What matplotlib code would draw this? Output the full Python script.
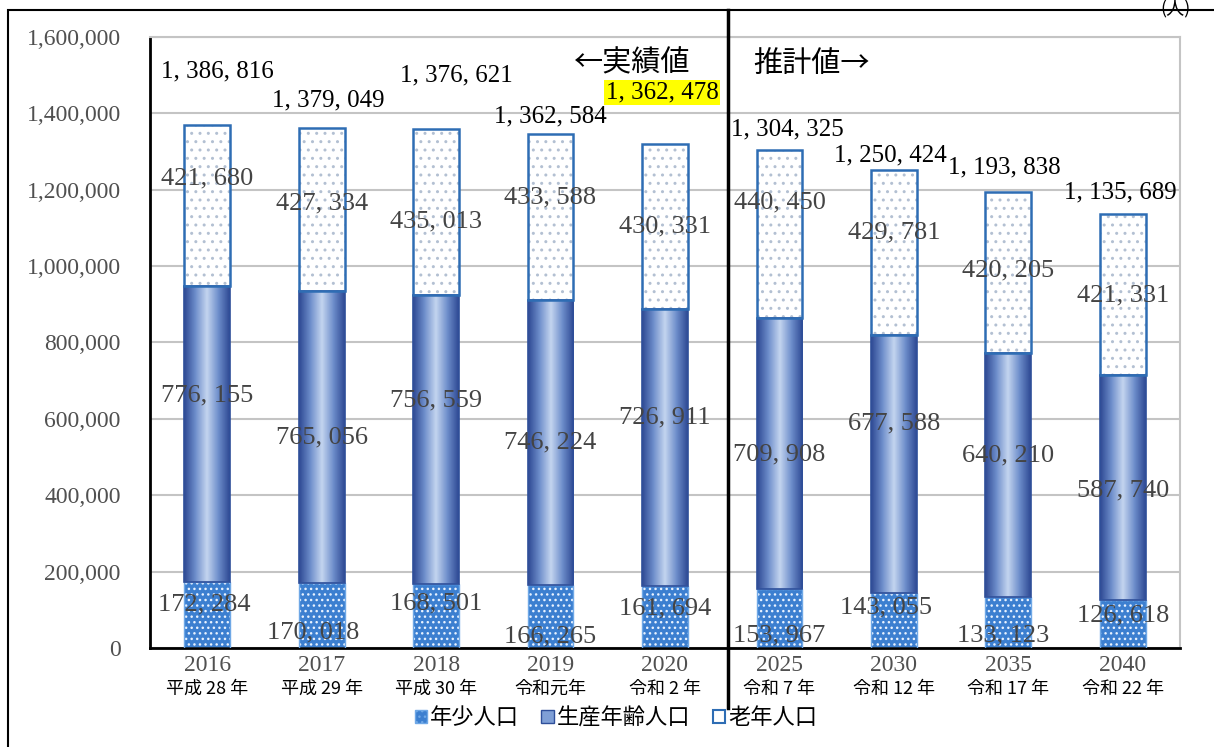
import numpy as np
import matplotlib.pyplot as plt
from matplotlib.patches import Rectangle, Patch
from matplotlib.colors import LinearSegmentedColormap
from matplotlib.lines import Line2D

plt.rcParams['font.family'] = ['Liberation Serif', 'Noto Sans CJK JP', 'DejaVu Sans']
plt.rcParams['hatch.linewidth'] = 1.0

years = ["2016", "2017", "2018", "2019", "2020", "2025", "2030", "2035", "2040"]
eras = ["平成 28 年", "平成 29 年", "平成 30 年", "令和元年", "令和 2 年",
        "令和 7 年", "令和 12 年", "令和 17 年", "令和 22 年"]
young = [172284, 170018, 168501, 166265, 161694, 153967, 143055, 133123, 126618]
working = [776155, 765056, 756559, 746224, 726911, 709908, 677588, 640210, 587740]
old = [421680, 427334, 435013, 433588, 430331, 440450, 429781, 420205, 421331]
totals = [1386816, 1379049, 1376621, 1362584, 1362478, 1304325, 1250424, 1193838, 1135689]
series_names = ["年少人口", "生産年齢人口", "老年人口"]

# label nudges in pixels (the source chart places them by hand)
total_dx = [10, 7, 20, 0, -3, 8, -4, -4, -2]
total_dy = [53, 27, 53, 18, 52, 20, 15, 25, 22]
old_dy = [27, 6, -10, 19, 0, 32, 20, 2, -1]
work_dy = [39, 0, 39, 0, 30, -1, 41, 19, -3]
young_dy = [11, -17, 12, -20, 9, -17, 13, -13, 8]
young_dx = [-3, -8, 0, 0, 0, 0, -8, -5, 0]


def fmt(v):
    return f"{v:,}".replace(",", ", ")


fig = plt.figure(figsize=(12.14, 7.47), dpi=100)
ax = fig.add_axes([150/1214, 1-648/747, 1030/1214, 611/747])

x = np.arange(len(years))
w = 0.4
young_blue = "#3c7fd0"
edge_blue = "#2e6db4"

# 年少人口
ax.bar(x, young, w, color=young_blue, edgecolor=young_blue, linewidth=0, zorder=2)
ax.bar(x, young, w, facecolor="none", edgecolor="#e8f2ff", hatch="...", linewidth=0, zorder=3)
ax.bar(x, young, w, facecolor="none", edgecolor="#6fa8e6", linewidth=1, zorder=4)

# 生産年齢人口 with gradient
grad = LinearSegmentedColormap.from_list("g", ["#2f4a94", "#6f8fcc", "#c4d5ef", "#6f8fcc", "#2f4a94"])
wbars = ax.bar(x, working, w, bottom=young, facecolor="none", edgecolor="#2f4f9a", linewidth=1.2, zorder=4)
for b in wbars:
    x0, y0 = b.get_x(), b.get_y()
    im = ax.imshow(np.linspace(0, 1, 64).reshape(1, -1), cmap=grad, aspect="auto",
                   extent=[x0, x0 + b.get_width(), y0, y0 + b.get_height()], zorder=2)
    im.set_clip_path(b)

# 老年人口
bottom_old = np.array(young) + np.array(working)
ax.bar(x, old, w, bottom=bottom_old, color="white", linewidth=0, zorder=2)
ax.bar(x, old, w, bottom=bottom_old, facecolor="none", edgecolor="#b3c0d2", hatch="..", linewidth=0, zorder=3)
ax.bar(x, old, w, bottom=bottom_old, facecolor="none", edgecolor=edge_blue, linewidth=1.8, zorder=4)

ax.set_xlim(-0.5, 8.5)
ax.set_ylim(0, 1600000)
ax.set_yticks(np.arange(0, 1600001, 200000))
ax.set_yticklabels([f"{v:,}" for v in range(0, 1600001, 200000)], fontsize=17, color="#505050")
ax.yaxis.grid(True, color="#c4c4c4", linewidth=1.5, zorder=0)
ax.set_axisbelow(True)
ax.tick_params(axis="y", length=0, pad=21)
ax.tick_params(axis="x", length=0, pad=5)
ax.set_xticks(x)
ax.set_xticklabels(years, fontsize=17, color="#505050")
for xi, e in zip(x, eras):
    ax.annotate(e, (xi, 0), xytext=(0, -41), textcoords="offset pixels",
                ha="center", va="center", fontsize=13, family=["Noto Sans CJK JP"])

for s in ["top", "right"]:
    ax.spines[s].set_color("#c4c4c4")
    ax.spines[s].set_linewidth(1.5)
for s in ["left", "bottom"]:
    ax.spines[s].set_color("black")
    ax.spines[s].set_linewidth(2)

# value labels
for i in range(len(x)):
    top = young[i] + working[i] + old[i]
    t = ax.annotate(fmt(totals[i]), (x[i], top), xytext=(total_dx[i], total_dy[i]),
                    textcoords="offset pixels", ha="center", va="center",
                    fontsize=18, color="black", zorder=6)
    if i == 4:
        t.set_bbox(dict(facecolor="#ffff00", edgecolor="none", pad=1))
    ax.annotate(fmt(old[i]), (x[i], bottom_old[i] + old[i] / 2), xytext=(0, old_dy[i]),
                textcoords="offset pixels", ha="center", va="center",
                fontsize=19, color="#444444", zorder=6)
    ax.annotate(fmt(working[i]), (x[i], young[i] + working[i] / 2), xytext=(0, work_dy[i]),
                textcoords="offset pixels", ha="center", va="center",
                fontsize=19, color="#444444", zorder=6)
    ax.annotate(fmt(young[i]), (x[i], young[i] / 2), xytext=(young_dx[i], young_dy[i]),
                textcoords="offset pixels", ha="center", va="center",
                fontsize=19, color="#444444", zorder=6)

# divider between actual and projected values
ax.add_line(Line2D([4.55, 4.55], [-0.098, 1.044], transform=ax.get_xaxis_transform(),
                   color="black", linewidth=2.5, clip_on=False, zorder=7))
ax.text(4.22, 1.53e6, "←実績値", ha="right", va="center", fontsize=21,
        family=["Noto Sans CJK JP"], zorder=6)
ax.text(4.77, 1.53e6, "推計値→", ha="left", va="center", fontsize=21,
        family=["Noto Sans CJK JP"], zorder=6)

# outer frame and unit
fig.add_artist(Rectangle((8/1214, -0.01), 1.1, 1 - 10/747 + 0.01, transform=fig.transFigure,
                         facecolor="none", edgecolor="black", linewidth=1.5))
fig.text(1175/1214, 1 - 9/747, "(人)", ha="center", va="center", fontsize=13,
         family=["Noto Sans CJK JP"])

handles = [
    Patch(facecolor=young_blue, edgecolor="#6fa8e6", hatch="..."),
    Patch(facecolor="#7f9fd6", edgecolor="#2f4f9a"),
    Patch(facecolor="white", edgecolor=edge_blue, linewidth=1.5),
]
fig.legend(handles, series_names, loc="center", bbox_to_anchor=(616/1214, 1-718/747),
           ncol=3, frameon=False, handlelength=0.55, handleheight=0.55, handletextpad=0.15,
           columnspacing=1.0, prop={"family": ["Noto Sans CJK JP"], "size": 16})

fig.savefig("out.png", dpi=100)
